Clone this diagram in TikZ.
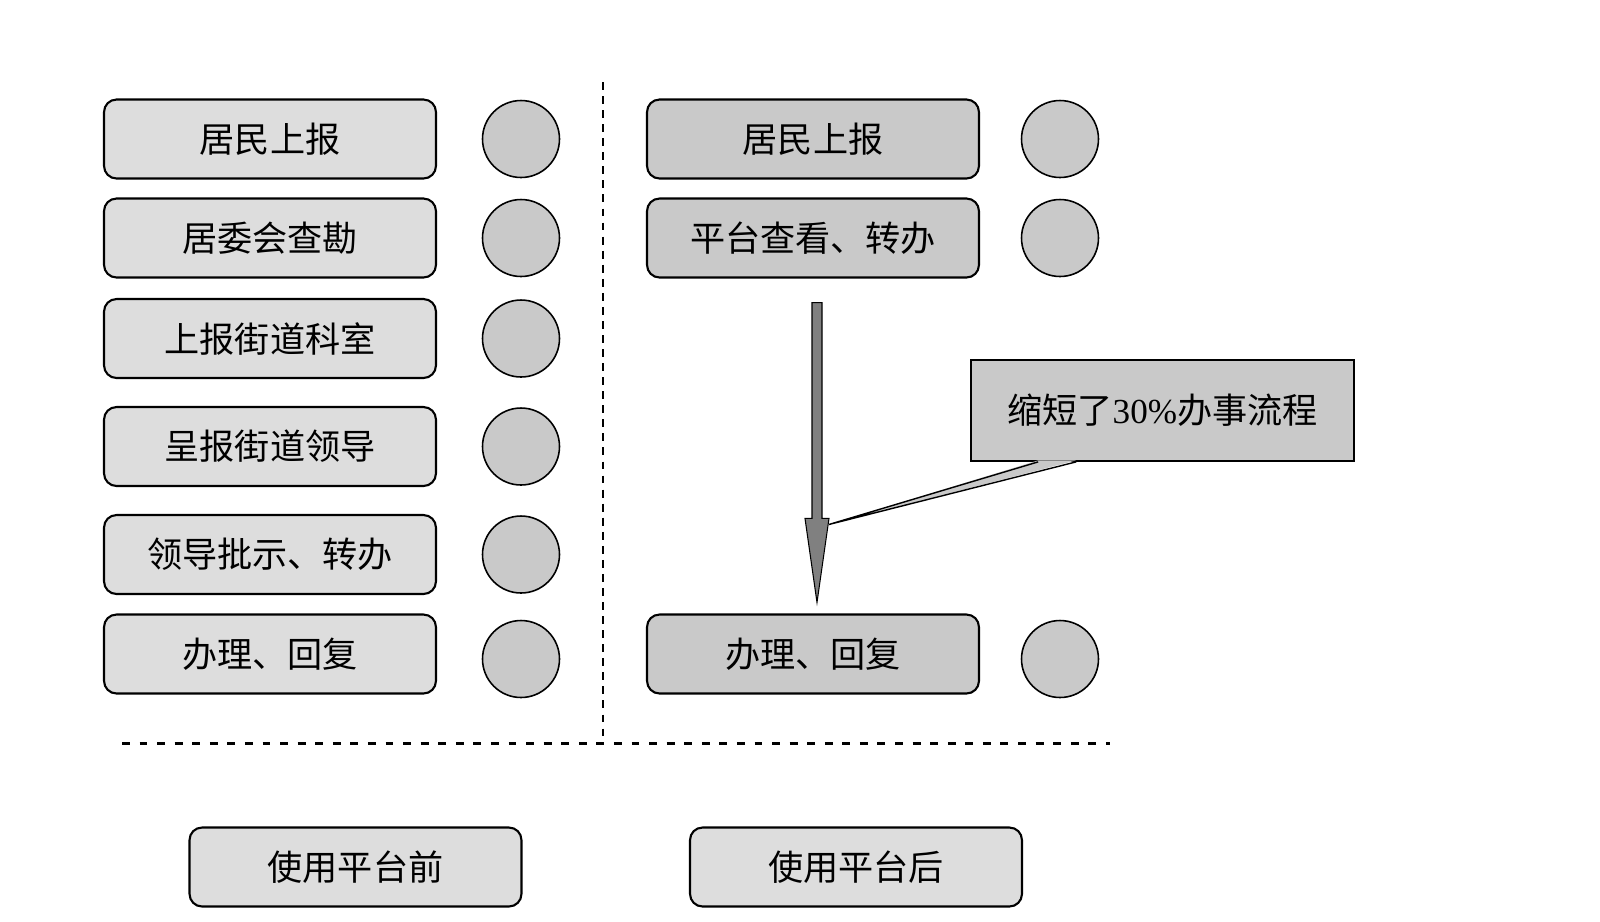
\documentclass[tikz,border=0pt]{standalone}
\usepackage{fontspec}
\setmainfont{Noto Sans CJK SC}
\newfontfamily\latinfont{Liberation Serif}
\usetikzlibrary{calc}
\definecolor{lightbox}{RGB}{221,221,221}
\definecolor{darkbox}{RGB}{201,201,201}
\definecolor{arrowgray}{RGB}{128,128,128}
\tikzset{stepbox/.style={draw, line width=1.2pt, rounded corners=0.25cm,
        fill=lightbox, minimum width=6.64cm, minimum height=1.58cm,
        inner sep=0pt, font=\fontsize{20}{24}\selectfont},
    newbox/.style={stepbox, fill=darkbox},
    lamp/.style={draw, circle, line width=0.9pt, fill=darkbox,
        minimum size=1.54cm, inner sep=0pt},
    notebox/.style={draw, line width=1pt, fill=darkbox, minimum width=7.66cm,
        minimum height=2.02cm, inner sep=0pt, font=\fontsize{20}{24}\selectfont},
    bigarrow/.style={draw=black, line width=0.6pt, fill=arrowgray, line join=miter}
}

\begin{document}
\begin{tikzpicture}[x=0.02cm, y=-0.02cm]
      \useasboundingbox (0,0) rectangle (1600,921);
      % before
      \node[stepbox] (l1) at (270,139) {居民上报};
      \node[stepbox] (l2) at (270,238) {居委会查勘};
      \node[stepbox] (l3) at (270,338.5) {上报街道科室};
      \node[stepbox] (l4) at (270,446.5) {呈报街道领导};
      \node[stepbox] (l5) at (270,554.5) {领导批示、转办};
      \node[stepbox] (l6) at (270,654) {办理、回复};
      \node[lamp] (c1) at (521,139) {};
      \node[lamp] (c2) at (521,238) {};
      \node[lamp] (c3) at (521,338.5) {};
      \node[lamp] (c4) at (521,446.5) {};
      \node[lamp] (c5) at (521,554.5) {};
      \node[lamp] (c6) at (521,659) {};
      % after
      \node[newbox] (r1) at (813,139) {居民上报};
      \node[newbox] (r2) at (813,238) {平台查看、转办};
      \node[newbox] (r3) at (813,654) {办理、回复};
      \node[lamp] (d1) at (1060,139) {};
      \node[lamp] (d2) at (1060,238) {};
      \node[lamp] (d3) at (1060,659) {};
      % separators
      \draw[line width=0.7pt, dash pattern=on 4.5pt off 3.5pt] (603,82) -- (603,743);
      \draw[line width=1.7pt, dash pattern=on 4.5pt off 5.5pt] (122,743) -- (1110,743);
      \node[stepbox] (before) at (355.5,867) {使用平台前};
      \node[stepbox] (after) at (856,867) {使用平台后};
      % big arrow
      \coordinate (atop) at ($(r2.south)+(4,24)$);
      \coordinate (abot) at ($(r3.north)+(4,-11)$);
      \filldraw[bigarrow] ($(atop)+(-5,0)$) -- ($(atop)+(5,0)$) -- ($(abot)+(5,-84)$)
        -- ($(abot)+(12,-84)$) -- (abot) -- ($(abot)+(-12,-84)$) -- ($(abot)+(-5,-84)$) -- cycle;
      % callout
      \node[notebox] (note) at (1162.5,410.5) {缩短了{\latinfont 30\%}办事流程};
      \coordinate (ptip) at ($(abot)+(12,-78)$);
      \fill[darkbox] ($(note.south west)+(68,-1.5)$) -- (ptip) -- ($(note.south west)+(106,-1.5)$) -- cycle;
      \draw[line width=0.8pt] ($(note.south west)+(68,0)$) -- (ptip) -- ($(note.south west)+(106,0)$);
    \end{tikzpicture}
\end{document}
